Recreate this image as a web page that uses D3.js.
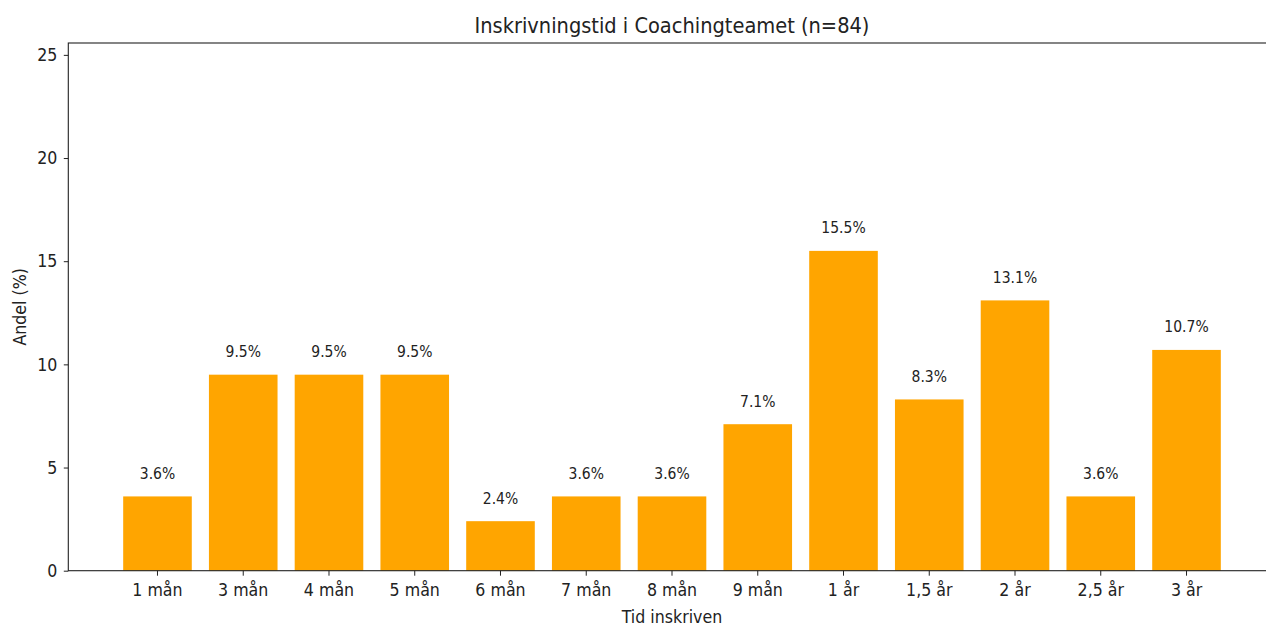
<!DOCTYPE html>
<html>
<head>
<meta charset="utf-8">
<script src="https://cdn.jsdelivr.net/npm/d3@7"></script>
<style>
  body { margin: 0; background: #fff; overflow: hidden; }
  svg { display: block; font-family: "DejaVu Sans Condensed", "DejaVu Sans", sans-serif; font-stretch: condensed; }
  .axis text { font-size: 17.6px; fill: #222; font-family: "DejaVu Sans Condensed", "DejaVu Sans", sans-serif; }
  .axis path, .axis line { stroke: #222; }
</style>
</head>
<body>
<svg id="chart"></svg>
<script>
const categories = ["1 mån", "3 mån", "4 mån", "5 mån", "6 mån", "7 mån", "8 mån",
  "9 mån", "1 år", "1,5 år", "2 år", "2,5 år", "3 år"];
const shares = [3.6, 9.5, 9.5, 9.5, 2.4, 3.6, 3.6, 7.1, 15.5, 8.3, 13.1, 3.6, 10.7];
const yTicks = [0, 5, 10, 15, 20, 25];

const W = 1266, H = 625;
// plot frame (right edge lies outside the window, like the reference crop)
const plotLeft = 68.3, plotRight = 1275.7, plotTop = 43, plotBottom = 570.7;

const svg = d3.select("#chart").attr("width", W).attr("height", H);

const x = d3.scaleBand().domain(categories).range([plotLeft, plotRight])
    .paddingInner(0.2).paddingOuter(0.64);
const y = d3.scaleLinear().domain([0, d3.max(shares) * 1.65]).range([plotBottom, plotTop]);

/* bars */
svg.append("g").selectAll("rect")
  .data(shares)
  .enter().append("rect")
    .attr("x", (d, i) => x(categories[i]))
    .attr("y", d => y(d))
    .attr("width", x.bandwidth())
    .attr("height", d => y(0) - y(d))
    .attr("fill", "#FFA500");

/* value labels */
svg.append("g").selectAll("text")
  .data(shares)
  .enter().append("text")
    .attr("x", (d, i) => x(categories[i]) + x.bandwidth() / 2)
    .attr("y", d => y(d) - 17.5)
    .attr("text-anchor", "middle")
    .attr("font-size", 15.5)
    .attr("fill", "#222")
    .text(d => d.toFixed(1) + "%");

/* axes */
const xAxis = d3.axisBottom(x).tickSize(5).tickPadding(8.2).tickSizeOuter(0);
svg.append("g").attr("class", "axis")
  .attr("transform", "translate(0," + plotBottom + ")")
  .call(xAxis)
  .call(g => g.select(".domain").remove());

const yAxis = d3.axisLeft(y).tickValues(yTicks).tickSize(4.5).tickPadding(6.5).tickSizeOuter(0);
svg.append("g").attr("class", "axis")
  .attr("transform", "translate(" + plotLeft + ",0)")
  .call(yAxis)
  .call(g => g.select(".domain").remove());

/* frame */
svg.append("rect")
  .attr("x", plotLeft).attr("y", plotTop)
  .attr("width", plotRight - plotLeft).attr("height", plotBottom - plotTop)
  .attr("fill", "none").attr("stroke", "#222").attr("stroke-width", 1.1);

/* titles */
svg.append("text").text("Inskrivningstid i Coachingteamet (n=84)")
  .attr("x", (plotLeft + plotRight) / 2).attr("y", 33)
  .attr("text-anchor", "middle").attr("font-size", 21.6).attr("fill", "#222");

svg.append("text").text("Tid inskriven")
  .attr("x", (plotLeft + plotRight) / 2).attr("y", 623)
  .attr("text-anchor", "middle").attr("font-size", 17.6).attr("fill", "#222");

svg.append("text").text("Andel (%)")
  .attr("transform", "translate(26," + (plotTop + plotBottom) / 2 + ") rotate(-90)")
  .attr("text-anchor", "middle").attr("font-size", 17.6).attr("fill", "#222");
</script>
</body>
</html>
